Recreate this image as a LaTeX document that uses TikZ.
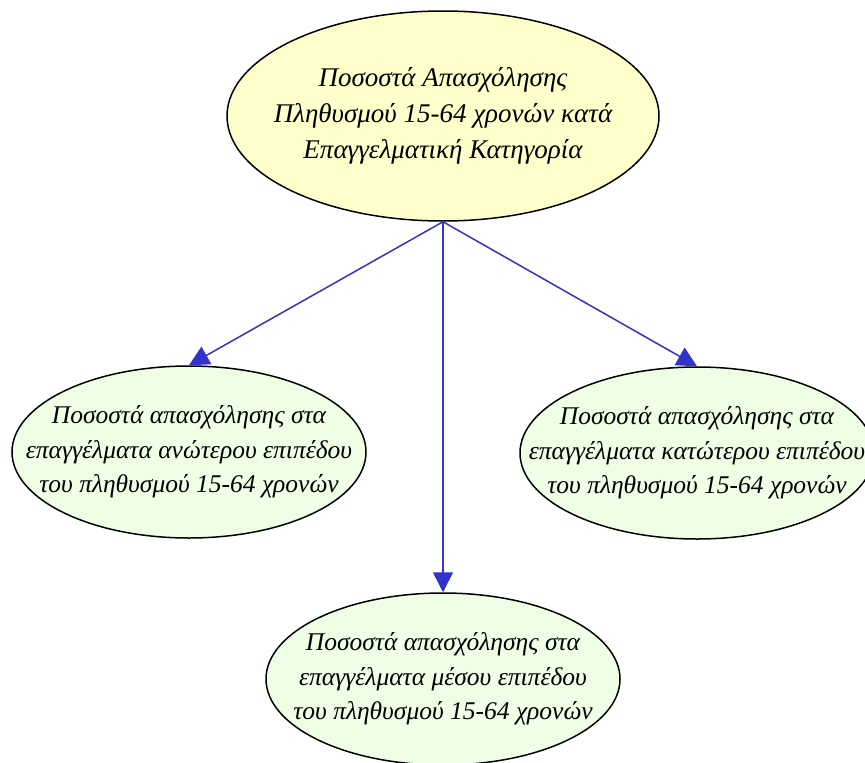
\documentclass[tikz,border=0pt]{standalone}
\usepackage{fontspec}
\setmainfont{Liberation Serif}
\usepackage{tikz}
\usetikzlibrary{shapes.geometric,arrows.meta,positioning}

\definecolor{topfill}{RGB}{255,255,204}
\definecolor{subfill}{RGB}{238,255,230}
\definecolor{edgeblue}{RGB}{51,51,204}

\begin{document}
\begin{tikzpicture}[
  x=1pt, y=-1pt,
  main/.style={ellipse, draw, line width=1.5pt, fill=topfill, minimum width=432pt, minimum height=210pt, inner sep=0pt},
  sub/.style={ellipse, draw, line width=1.5pt, fill=subfill, minimum width=354pt, minimum height=172pt, inner sep=0pt},
  maintext/.style={align=center, font=\itshape\fontsize{27}{36}\selectfont},
  subtext/.style={align=center, font=\itshape\fontsize{25.5}{34.5}\selectfont},
  arrow/.style={-{Triangle[length=20pt, width=20pt]}, line width=1.5pt, draw=edgeblue, fill=edgeblue},
]
  \clip (0,0) rectangle (865,763);

  % Top node
  \node[main, label={[maintext]center:Ποσοστά Απασχόλησης\\Πληθυσμού 15-64 χρονών κατά\\Επαγγελματική Κατηγορία}] (rate) at (443,116) {};

  % Occupation levels
  \node[sub, label={[subtext]center:Ποσοστά απασχόλησης στα\\επαγγέλματα ανώτερου επιπέδου\\του πληθυσμού 15-64 χρονών}] (upper) at (189,452) {};
  \node[sub, label={[subtext]center:Ποσοστά απασχόλησης στα\\επαγγέλματα κατώτερου επιπέδου\\του πληθυσμού 15-64 χρονών}] (lower) at (697,453) {};
  \node[sub, label={[subtext]center:Ποσοστά απασχόλησης στα\\επαγγέλματα μέσου επιπέδου\\του πληθυσμού 15-64 χρονών}] (middle) at (443,679) {};

  % Arrows
  \draw[arrow] (rate.south) -- (upper.north);
  \draw[arrow] (rate.south) -- (middle.north);
  \draw[arrow] (rate.south) -- (lower.north);
\end{tikzpicture}
\end{document}
